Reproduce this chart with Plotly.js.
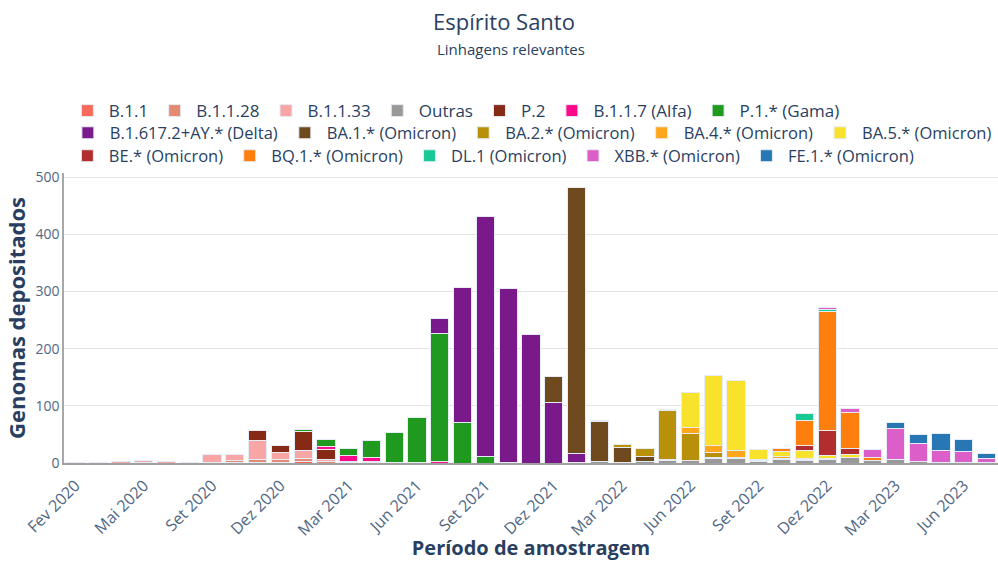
<!DOCTYPE html>
<html>
<head>
<meta charset="utf-8">
<script src="https://cdn.plot.ly/plotly-3.0.1.min.js"></script>
<style>html,body{margin:0;padding:0;background:#fff;}#chart{width:998px;height:561px;}</style>
</head>
<body>
<div id="chart"></div>
<script>
// Categories (monthly sampling periods)
const months = [
  "Fev 2020","Mar 2020","Abr 2020","Mai 2020","Jun 2020","Ago 2020","Set 2020","Out 2020","Nov 2020","Dez 2020",
  "Jan 2021","Fev 2021","Mar 2021","Abr 2021","Mai 2021","Jun 2021","Jul 2021","Ago 2021","Set 2021","Out 2021",
  "Nov 2021","Dez 2021","Jan 2022","Fev 2022","Mar 2022","Abr 2022","Mai 2022","Jun 2022","Jul 2022","Ago 2022",
  "Set 2022","Out 2022","Nov 2022","Dez 2022","Jan 2023","Fev 2023","Mar 2023","Abr 2023","Mai 2023","Jun 2023",
  "Jul 2023"
];
const tickLabels = ["Fev 2020","Mai 2020","Set 2020","Dez 2020","Mar 2021","Jun 2021","Set 2021","Dez 2021",
  "Mar 2022","Jun 2022","Set 2022","Dez 2022","Mar 2023","Jun 2023"];

// Series values (genomes per month)
const vB11   = [1,0,0,0,0,0,0,1,1,1, 2,0,0,0,0,0,0,0,0,0, 0,0,0,0,0,0,0,0,0,0, 0,0,0,0,0,0,0,0,0,0, 0];
const vB1128 = [0,0,0,1,0,0,1,4,5,5, 6,3,1,1,0,0,0,0,0,0, 0,0,0,0,0,0,0,0,0,0, 0,0,0,0,0,0,0,0,0,0, 0];
const vB1133 = [0,1,2,4,2,0,13,9,34,12, 13,3,0,0,0,0,0,0,0,0, 0,0,0,0,0,0,0,0,0,0, 0,0,0,0,0,0,0,0,0,0, 0];
const vOutras= [0,0,0,0,0,1,0,0,0,0, 1,1,0,1,0,1,0,0,0,0, 0,0,1,2,1,2,4,4,8,8, 3,6,5,7,10,4,6,3,1,1, 1];
const vP2    = [0,0,0,0,0,0,0,0,16,13, 33,17,2,1,0,0,0,0,0,0, 0,0,0,0,0,0,0,0,0,0, 0,0,0,0,0,0,0,0,0,0, 0];
const vB117  = [0,0,0,0,0,0,0,0,0,0, 0,5,10,6,1,0,2,0,0,0, 0,0,0,0,0,0,0,0,0,0, 0,0,0,0,0,0,0,0,0,0, 0];
const vP1    = [0,0,0,0,0,0,0,0,0,0, 4,12,12,30,52,78,224,71,12,1, 0,0,0,0,0,0,0,0,0,0, 0,0,0,0,0,0,0,0,0,0, 0];
const vDelta = [0,0,0,0,0,0,0,0,0,0, 0,0,0,0,0,0,27,236,419,304, 225,105,16,0,0,0,0,0,0,0, 0,0,0,0,0,0,0,0,0,0, 0];
const vBA1   = [0,0,0,0,0,0,0,0,0,0, 0,0,0,0,0,0,0,0,0,0, 0,46,465,70,26,9,2,1,1,0, 0,0,0,0,0,0,0,0,0,0, 0];
const vBA2   = [0,0,0,0,0,0,0,0,0,0, 0,0,0,0,0,0,0,0,0,0, 0,0,0,2,6,15,85,47,10,2, 1,2,1,0,0,0,0,0,0,0, 0];
const vBA4   = [0,0,0,0,0,0,0,0,0,0, 0,0,0,0,0,0,0,0,0,0, 0,0,0,0,0,0,0,10,11,12, 3,4,2,1,0,0,0,0,0,0, 0];
const vBA5   = [0,0,0,0,0,0,0,0,0,0, 0,0,0,0,0,0,0,0,0,0, 0,0,0,0,0,0,3,62,123,122, 16,8,13,5,4,1,0,0,0,0, 0];
const vBE    = [0,0,0,0,0,0,0,0,0,0, 0,0,0,0,0,0,0,0,0,0, 0,0,0,0,0,0,0,0,0,0, 0,0,9,44,11,0,0,0,0,0, 0];
const vBQ1   = [0,0,0,0,0,0,0,0,0,0, 0,0,0,0,0,0,0,0,0,0, 0,0,0,0,0,0,0,0,0,0, 0,6,44,208,64,5,0,0,0,0, 0];
const vDL1   = [0,0,0,0,0,0,0,0,0,0, 0,0,0,0,0,0,0,0,0,0, 0,0,0,0,0,0,0,0,0,0, 0,0,12,4,0,0,0,0,0,0, 0];
const vXBB   = [0,0,0,0,0,0,0,0,0,0, 0,0,0,0,0,0,0,0,0,0, 0,0,0,0,0,0,0,0,0,0, 0,0,1,2,7,13,55,31,21,19, 7];
const vFE1   = [0,0,0,0,0,0,0,0,0,0, 0,0,0,0,0,0,0,0,0,0, 0,0,0,0,0,0,0,0,0,0, 0,0,0,0,0,0,10,16,29,21, 8];

const seriesNames = ["B.1.1","B.1.1.28","B.1.1.33","Outras","P.2","B.1.1.7 (Alfa)","P.1.* (Gama)",
  "B.1.617.2+AY.* (Delta)","BA.1.* (Omicron)","BA.2.* (Omicron)","BA.4.* (Omicron)","BA.5.* (Omicron)",
  "BE.* (Omicron)","BQ.1.* (Omicron)","DL.1 (Omicron)","XBB.* (Omicron)","FE.1.* (Omicron)"];
const seriesValues = [vB11,vB1128,vB1133,vOutras,vP2,vB117,vP1,vDelta,vBA1,vBA2,vBA4,vBA5,vBE,vBQ1,vDL1,vXBB,vFE1];
const seriesColors = ["#F8695A","#E38A70","#F7A5A5","#999999","#862A16","#FD0A8A","#1F9A1F",
  "#7A1A8A","#6E4A1E","#B8900A","#FFA71A","#F9E22B","#B22E2E","#FF7F0E","#16C995","#DC5FC9","#2777B4"];
// legend row assignment (one legend per row, as in the reference)
const legendRow = ["legend","legend","legend","legend","legend","legend","legend",
  "legend2","legend2","legend2","legend2","legend2",
  "legend3","legend3","legend3","legend3","legend3"];

const traces = seriesNames.map((name, k) => ({
  type: "bar",
  name: name,
  x: months,
  y: seriesValues[k],
  legend: legendRow[k],
  marker: {color: seriesColors[k], line: {color: "#E5ECF6", width: 1}},
  hovertemplate: "%{x}<br>%{y}<extra>" + name + "</extra>"
}));

const legendBase = {orientation: "h", x: 0.002, xanchor: "left", yanchor: "middle",
  traceorder: "normal", bgcolor: "rgba(0,0,0,0)"};

const layout = {
  width: 998, height: 561,
  barmode: "stack",
  bargap: 0.2,
  paper_bgcolor: "#ffffff",
  plot_bgcolor: "#ffffff",
  font: {family: "Open Sans, verdana, arial, sans-serif", color: "#2a3f5f", size: 14},
  margin: {l: 64, r: 0, t: 173, b: 98, pad: 0},
  title: {
    text: "Espírito Santo",
    font: {size: 22, color: "#2a3f5f"},
    x: 0.505, xanchor: "center", xref: "container",
    y: 0.9608, yanchor: "middle", yref: "container"
  },
  annotations: [{
    text: "Linhagens relevantes", showarrow: false,
    xref: "paper", yref: "paper", x: 0.4786, y: 1.4271, xanchor: "center", yanchor: "middle",
    font: {size: 15, color: "#2a3f5f"}
  }],
  legend: Object.assign({}, legendBase, {y: 1.2136, itemwidth: 33, font: {size: 17, color: "#2a3f5f"}}),
  legend2: Object.assign({}, legendBase, {y: 1.1378, itemwidth: 34, font: {size: 16.5, color: "#2a3f5f"}}),
  legend3: Object.assign({}, legendBase, {y: 1.0586, itemwidth: 33, font: {size: 16.5, color: "#2a3f5f"}}),
  xaxis: {
    type: "category",
    categoryorder: "array", categoryarray: months,
    tickmode: "array", tickvals: tickLabels, ticktext: tickLabels,
    tickangle: -45,
    tickfont: {size: 16, color: "#506784"},
    ticks: "outside", ticklen: 5, tickcolor: "rgba(0,0,0,0)",
    showline: true, linecolor: "#A0A0A0", linewidth: 2,
    showgrid: false, automargin: false,
    title: {text: "Período de amostragem", font: {size: 20, color: "#2a3f5f", weight: "bold"}}
  },
  yaxis: {
    range: [0, 507], dtick: 100,
    tickfont: {size: 14, color: "#506784"},
    showline: true, linecolor: "#A8A8A8", linewidth: 1.5,
    gridcolor: "#E4E4E4", zeroline: false, ticks: "", automargin: true,
    title: {text: "Genomas depositados", font: {size: 22, color: "#2a3f5f", weight: "bold"}, standoff: 4}
  }
};

Plotly.newPlot("chart", traces, layout, {displayModeBar: false, responsive: false});
</script>
</body>
</html>
